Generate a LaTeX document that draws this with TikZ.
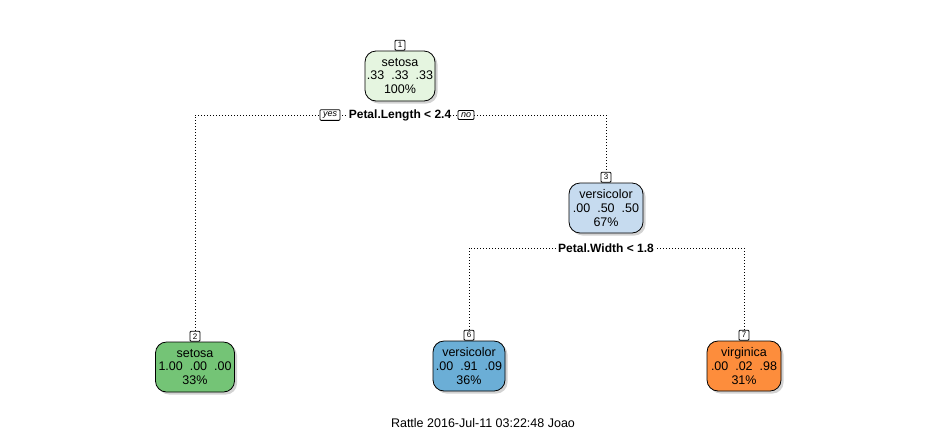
\documentclass[tikz,border=0pt]{standalone}
\usepackage{fontspec}
\setmainfont{Liberation Sans}
\usetikzlibrary{shadows}
\definecolor{c1}{HTML}{E5F5E0}
\definecolor{c3}{HTML}{C6DBEF}
\definecolor{c2}{HTML}{74C476}
\definecolor{c6}{HTML}{6BAED6}
\definecolor{c7}{HTML}{FD8D3C}
\begin{document}
\begin{tikzpicture}[x=1pt,y=-1pt,
  leaf/.style={draw=black, line width=0.8pt, rounded corners=11pt, minimum width=#1, minimum height=50pt, align=center, font=\fontsize{12.5}{13.8}\selectfont, inner sep=0pt, drop shadow={shadow xshift=2.5pt,shadow yshift=-2.5pt,fill=black!35}},
  idbox/.style={draw=black, line width=0.8pt, fill=white, font=\fontsize{8}{8}\selectfont, minimum width=10pt, minimum height=10pt, inner sep=0pt, rounded corners=1pt, anchor=south},
  dotline/.style={line width=1pt, dash pattern=on 1pt off 2pt},
  split/.style={fill=white, font=\bfseries\fontsize{12}{12}\selectfont, inner sep=1.5pt},
  yn/.style={draw=black, line width=0.8pt, fill=white, font=\itshape\fontsize{9}{9}\selectfont, inner xsep=3pt, inner ysep=2pt, rounded corners=1pt}
]
\useasboundingbox (0,0) rectangle (936,432);
\node[leaf=70pt, fill=c1] (n1) at (400,76) {setosa\\.33\ \ .33\ \ .33\\100\%};
\node[leaf=74pt, fill=c3] (n3) at (606,208) {versicolor\\.00\ \ .50\ \ .50\\67\%};
\node[leaf=79pt, fill=c2] (n2) at (195,367) {setosa\\1.00\ \ .00\ \ .00\\33\%};
\node[leaf=72pt, fill=c6] (n6) at (469,366) {versicolor\\.00\ \ .91\ \ .09\\36\%};
\node[leaf=74pt, fill=c7] (n7) at (744,366) {virginica\\.00\ \ .02\ \ .98\\31\%};
\node[idbox] (id1) at (n1.north) {1};
\node[idbox] (id3) at (n3.north) {3};
\node[idbox] (id2) at (n2.north) {2};
\node[idbox] (id6) at (n6.north) {6};
\node[idbox] (id7) at (n7.north) {7};
\coordinate (s1) at (400,115);
\coordinate (s2) at (606,248);
\draw[dotline] (id2.north) |- (s1) -| (id3.north);
\draw[dotline] (id6.north) |- (s2) -| (id7.north);
\node[split] (l1) at (s1) {Petal.Length < 2.4};
\node[yn] (yes) at (330,115) {yes};
\node[yn] (no) at (466,115) {no};
\node[split] (l2) at (s2) {Petal.Width < 1.8};
\node[font=\fontsize{12.5}{13}\selectfont] (foot) at (483,423) {Rattle 2016-Jul-11 03:22:48 Joao};
\end{tikzpicture}
\end{document}
